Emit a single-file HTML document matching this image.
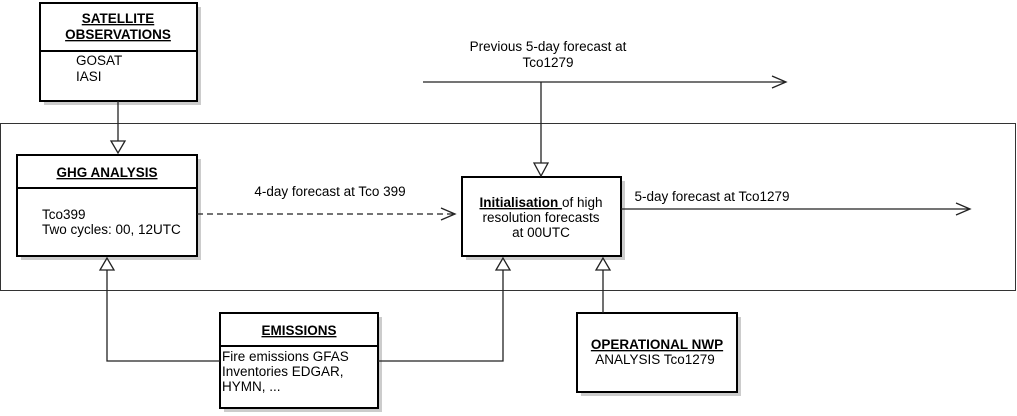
<!DOCTYPE html>
<html><head><meta charset="utf-8"><style>
html,body{margin:0;padding:0;background:#fff;}
svg{display:block;font-family:"Liberation Sans",Arial,sans-serif;font-size:13.5px;}
</style></head><body>
<svg width="1017" height="416" viewBox="0 0 1017 416" xmlns="http://www.w3.org/2000/svg">
<rect x="0.5" y="123.5" width="1015" height="167" fill="none" stroke="#333" stroke-width="1"/>
<g fill="#ccc">
<rect x="44" y="7" width="157" height="98"/>
<rect x="21" y="159" width="180" height="101"/>
<rect x="466" y="181" width="159" height="79"/>
<rect x="224" y="317" width="158" height="95"/>
<rect x="581" y="317" width="160" height="79"/>
</g>
<g stroke="#000" stroke-width="2" fill="#fff">
<rect x="40" y="3" width="157" height="98"/>
<line x1="40" y1="51" x2="197" y2="51"/>
<rect x="17" y="155" width="180" height="101"/>
<line x1="17" y1="188" x2="197" y2="188"/>
<rect x="462" y="177" width="159" height="79"/>
<rect x="220" y="313" width="158" height="95"/>
<line x1="220" y1="346" x2="378" y2="346"/>
<rect x="577" y="313" width="160" height="79"/>
</g>
<g stroke="#222" stroke-width="1.3" fill="none">
<line x1="118" y1="101" x2="118" y2="141"/>
<line x1="423" y1="82" x2="785" y2="82"/>
<polyline points="772,76 786,82 772,88"/>
<line x1="541" y1="82" x2="541" y2="163"/>
<line x1="197" y1="214" x2="454" y2="214" stroke-dasharray="6,4"/>
<polyline points="441,208 455,214 441,220"/>
<line x1="621" y1="209" x2="969" y2="209"/>
<polyline points="956,203 970,209 956,215"/>
<polyline points="220,361 107,361 107,270"/>
<polyline points="378,361 503,361 503,270"/>
<line x1="603" y1="313" x2="603" y2="270"/>
</g>
<g stroke="#222" stroke-width="1.3" fill="#fff">
<polygon points="111,141 125,141 118,153"/>
<polygon points="534,163 548,163 541,176"/>
<polygon points="107,258 100,270 114,270"/>
<polygon points="503,258 496,270 510,270"/>
<polygon points="603,258 596,270 610,270"/>
</g>
<g fill="#000">
<text x="118" y="23" text-anchor="middle" font-weight="bold" text-decoration="underline">SATELLITE</text>
<text x="118" y="39" text-anchor="middle" font-weight="bold" text-decoration="underline">OBSERVATIONS</text>
<text x="76" y="65">GOSAT</text>
<text x="76" y="81">IASI</text>
<text x="107" y="177" text-anchor="middle" font-weight="bold" text-decoration="underline">GHG ANALYSIS</text>
<text x="42" y="219">Tco399</text>
<text x="42" y="234">Two cycles: 00, 12UTC</text>
<text x="330" y="196" text-anchor="middle">4-day forecast at Tco 399</text>
<text x="548" y="51" text-anchor="middle">Previous 5-day forecast at</text>
<text x="548" y="67" text-anchor="middle">Tco1279</text>
<text x="541" y="207" text-anchor="middle"><tspan font-weight="bold" text-decoration="underline">Initialisation </tspan>of high</text>
<text x="541" y="222" text-anchor="middle">resolution forecasts</text>
<text x="541" y="237" text-anchor="middle">at 00UTC</text>
<text x="712" y="201" text-anchor="middle">5-day forecast at Tco1279</text>
<text x="299" y="335" text-anchor="middle" font-weight="bold" text-decoration="underline">EMISSIONS</text>
<text x="222" y="361">Fire emissions GFAS</text>
<text x="222" y="376">Inventories EDGAR,</text>
<text x="222" y="391">HYMN, ...</text>
<text x="657" y="349" text-anchor="middle" font-weight="bold" text-decoration="underline">OPERATIONAL NWP</text>
<text x="655" y="364" text-anchor="middle">ANALYSIS Tco1279</text>
</g>
</svg>
</body></html>
